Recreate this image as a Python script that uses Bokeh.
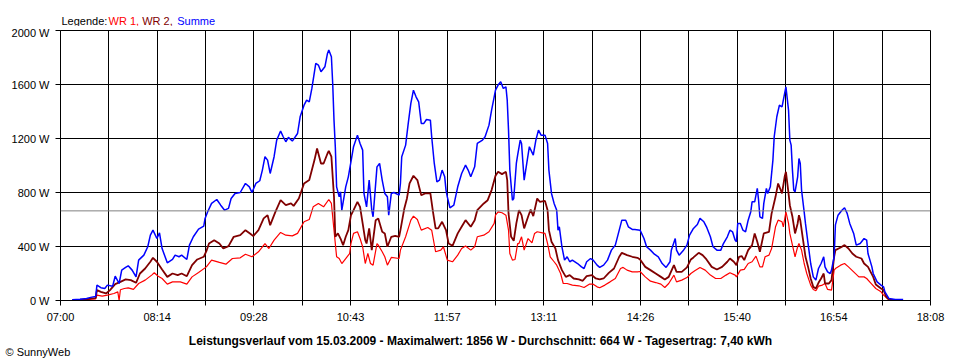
from bokeh.plotting import figure
from bokeh.layouts import column
from bokeh.models import Range1d, FixedTicker, CustomJSTickFormatter, Label, Span
from bokeh.embed import file_html
from bokeh.resources import INLINE

# ---------------- data ----------------
summe_times = ["07:09","07:15","07:20","07:24","07:27","07:28","07:31","07:34","07:36","07:40","07:42","07:45","07:47","07:50","07:52","07:55","07:58","08:00","08:04","08:07","08:09","08:11","08:14","08:16","08:18","08:22","08:26","08:28","08:31","08:33","08:37","08:39","08:42","08:46","08:50","08:51","08:53","08:56","09:00","09:03","09:06","09:09","09:11","09:14","09:18","09:22","09:25","09:27","09:30","09:33","09:35","09:37","09:39","09:41","09:44","09:46","09:49","09:51","09:53","09:55","09:58","10:02","10:04","10:07","10:09","10:11","10:13","10:16","10:18","10:20","10:23","10:25","10:26","10:28","10:29","10:30","10:31","10:32","10:34","10:35","10:36","10:39","10:41","10:43","10:45","10:48","10:50","10:52","10:53","10:55","10:57","10:59","11:00","11:03","11:05","11:07","11:09","11:11","11:12","11:14","11:16","11:20","11:21","11:22","11:25","11:27","11:29","11:31","11:33","11:35","11:37","11:39","11:41","11:44","11:45","11:47","11:49","11:51","11:53","11:55","11:56","11:57","11:59","12:02","12:05","12:08","12:11","12:13","12:15","12:18","12:20","12:24","12:26","12:29","12:31","12:33","12:34","12:36","12:38","12:40","12:42","12:43","12:44","12:45","12:47","12:48","12:50","12:51","12:53","12:54","12:56","12:58","13:00","13:03","13:05","13:07","13:09","13:12","13:14","13:15","13:17","13:19","13:21","13:22","13:23","13:25","13:27","13:29","13:31","13:33","13:37","13:40","13:42","13:44","13:47","13:49","13:52","13:54","13:57","14:00","14:03","14:06","14:09","14:11","14:14","14:16","14:19","14:21","14:25","14:28","14:30","14:33","14:36","14:39","14:42","14:45","14:48","14:49","14:52","14:53","14:55","14:58","15:01","15:03","15:06","15:09","15:11","15:14","15:16","15:19","15:21","15:24","15:27","15:29","15:32","15:34","15:36","15:38","15:39","15:40","15:42","15:44","15:46","15:48","15:50","15:51","15:53","15:55","15:56","15:57","15:59","16:00","16:02","16:03","16:05","16:07","16:08","16:10","16:12","16:14","16:16","16:17","16:19","16:20","16:21","16:22","16:23","16:24","16:26","16:27","16:28","16:29","16:31","16:32","16:34","16:36","16:38","16:40","16:42","16:44","16:46","16:47","16:49","16:51","16:52","16:54","16:55","16:57","17:00","17:02","17:04","17:06","17:09","17:11","17:14","17:17","17:19","17:20","17:23","17:24","17:27","17:30","17:32","17:33","17:36","17:41","17:47"]
summe_watts = [5,10,15,25,30,114,95,89,114,105,180,126,225,245,257,225,175,299,336,398,484,521,459,501,385,279,304,336,324,336,304,410,472,529,551,608,657,719,748,706,669,682,756,793,800,867,842,800,867,887,966,1065,1040,941,1065,1188,1255,1213,1176,1208,1181,1237,1361,1447,1484,1472,1571,1756,1744,1694,1731,1830,1856,1806,1608,1336,1139,842,768,805,669,842,916,1027,1139,1225,1163,1114,793,694,892,669,620,990,1015,892,793,768,632,793,800,780,867,1065,1151,1312,1460,1558,1509,1472,1312,1312,1341,1336,1213,1015,879,892,966,916,818,768,687,706,842,941,1003,966,916,990,1163,1188,1213,1299,1410,1509,1558,1596,1620,1571,1583,1484,1262,966,743,756,1015,1077,1188,1163,892,1015,1139,1077,1188,1262,1225,1225,1163,966,793,719,669,521,546,398,299,324,287,299,274,249,237,287,311,299,262,245,262,299,373,410,521,595,595,546,526,526,521,459,398,373,343,324,274,245,287,373,459,373,336,368,410,484,534,563,608,583,546,472,398,373,373,422,472,521,509,447,435,571,571,521,509,595,657,731,731,830,743,620,608,719,830,793,842,1040,1213,1361,1447,1435,1534,1583,1410,1188,1151,966,818,805,916,1052,1015,818,657,571,422,274,175,151,237,274,324,249,212,200,225,324,560,632,669,687,645,571,497,410,422,459,447,348,249,200,138,114,101,64,15,7,7]

wr2_times = ["07:09","07:15","07:20","07:24","07:27","07:28","07:31","07:35","07:38","07:42","07:46","07:50","07:54","07:58","08:01","08:05","08:09","08:11","08:14","08:18","08:22","08:26","08:30","08:33","08:37","08:41","08:45","08:50","08:52","08:54","08:58","09:02","09:05","09:09","09:13","09:18","09:22","09:26","09:28","09:32","09:36","09:39","09:41","09:45","09:49","09:53","09:57","09:59","10:03","10:07","10:11","10:15","10:17","10:20","10:22","10:25","10:26","10:28","10:30","10:31","10:33","10:35","10:37","10:39","10:41","10:43","10:45","10:48","10:50","10:52","10:54","10:55","10:57","10:59","11:02","11:04","11:07","11:09","11:11","11:14","11:17","11:20","11:21","11:24","11:26","11:28","11:31","11:34","11:37","11:40","11:44","11:46","11:48","11:50","11:53","11:56","11:58","12:01","12:05","12:08","12:11","12:15","12:18","12:20","12:25","12:28","12:31","12:34","12:36","12:39","12:42","12:43","12:44","12:46","12:48","12:50","12:51","12:52","12:54","12:56","12:59","13:01","13:03","13:06","13:08","13:12","13:14","13:15","13:17","13:20","13:22","13:25","13:28","13:31","13:34","13:38","13:41","13:44","13:48","13:51","13:54","13:57","14:01","14:05","14:09","14:11","14:15","14:19","14:23","14:25","14:29","14:33","14:37","14:41","14:44","14:47","14:51","14:53","14:57","15:01","15:04","15:06","15:10","15:13","15:16","15:20","15:24","15:28","15:32","15:34","15:37","15:39","15:41","15:43","15:45","15:48","15:51","15:53","15:55","15:57","16:00","16:04","16:06","16:09","16:11","16:14","16:16","16:17","16:19","16:20","16:22","16:24","16:26","16:27","16:28","16:30","16:32","16:34","16:36","16:38","16:40","16:42","16:44","16:46","16:47","16:50","16:52","16:54","16:55","16:59","17:02","17:05","17:08","17:11","17:15","17:17","17:20","17:24","17:26","17:30","17:32","17:34","17:36","17:41"]
wr2_watts = [3,6,9,15,18,77,64,52,77,121,138,156,151,131,200,237,287,316,287,230,175,200,188,200,180,262,304,324,365,422,447,422,385,403,472,484,521,492,477,521,608,632,558,657,743,706,719,701,756,867,892,1040,1126,1015,1015,1089,1109,1065,768,472,497,459,410,472,521,630,669,731,694,571,447,422,534,373,595,608,509,497,398,472,479,472,521,682,756,867,924,892,780,793,793,657,534,534,583,521,422,405,497,546,595,546,595,669,719,743,818,924,953,936,953,892,645,472,442,571,620,669,632,534,620,674,625,756,731,738,669,521,435,385,299,225,175,188,163,156,146,180,188,163,156,163,205,237,324,353,336,324,316,304,249,225,200,175,156,175,262,212,212,245,304,319,353,336,304,249,230,249,287,311,287,262,324,329,299,373,410,497,435,361,497,509,645,768,867,793,916,953,793,706,620,497,571,632,595,459,324,249,163,101,89,131,163,200,126,126,151,324,373,393,410,385,348,324,311,274,249,175,119,89,77,27,7,3]

wr1_times = ["07:09","07:15","07:20","07:24","07:27","07:28","07:32","07:36","07:41","07:44","07:45","07:46","07:49","07:52","07:56","08:00","08:05","08:10","08:12","08:15","08:18","08:22","08:26","08:32","08:37","08:41","08:46","08:52","08:56","09:02","09:07","09:12","09:18","09:22","09:27","09:32","09:37","09:40","09:44","09:49","09:53","09:58","10:02","10:07","10:11","10:14","10:18","10:22","10:26","10:28","10:30","10:32","10:34","10:36","10:39","10:42","10:43","10:45","10:48","10:50","10:52","10:54","10:56","10:58","11:00","11:03","11:04","11:07","11:09","11:11","11:14","11:20","11:21","11:25","11:29","11:31","11:34","11:37","11:42","11:45","11:48","11:52","11:54","11:57","12:01","12:05","12:08","12:11","12:15","12:18","12:20","12:25","12:29","12:33","12:34","12:36","12:39","12:42","12:44","12:45","12:47","12:49","12:51","12:52","12:54","12:56","12:59","13:02","13:04","13:06","13:10","13:12","13:14","13:16","13:19","13:21","13:24","13:26","13:29","13:33","13:38","13:42","13:46","13:49","13:52","13:54","13:58","14:02","14:06","14:10","14:12","14:15","14:19","14:23","14:25","14:29","14:33","14:37","14:41","14:44","14:47","14:51","14:53","14:57","15:01","15:04","15:07","15:11","15:15","15:19","15:23","15:27","15:31","15:34","15:38","15:39","15:42","15:45","15:48","15:51","15:54","15:57","15:59","16:01","16:04","16:06","16:09","16:11","16:14","16:15","16:17","16:19","16:20","16:22","16:24","16:26","16:27","16:29","16:31","16:33","16:36","16:38","16:40","16:42","16:45","16:47","16:49","16:52","16:54","16:55","16:59","17:02","17:05","17:09","17:13","17:17","17:19","17:22","17:26","17:30","17:32","17:35","17:38"]
wr1_watts = [2,4,6,10,12,40,32,40,52,64,0,80,89,94,82,126,151,188,205,180,163,121,138,138,121,175,207,249,299,282,269,311,316,343,324,361,422,385,447,504,484,479,497,583,600,694,719,694,748,719,521,324,311,274,311,348,422,497,509,459,398,274,348,274,262,422,410,361,324,262,319,311,373,472,595,625,600,521,541,521,361,373,398,299,287,336,385,403,373,398,472,484,509,571,632,657,650,632,521,348,299,304,422,422,472,373,459,427,497,509,501,497,422,324,287,262,200,126,126,114,109,96,121,121,101,94,114,138,163,237,245,225,212,212,215,175,143,133,121,96,126,188,138,151,170,200,220,245,225,188,163,163,188,205,188,175,225,230,274,287,329,249,249,324,336,385,546,595,583,546,657,571,497,410,324,398,422,373,274,200,114,82,72,106,114,126,82,77,225,237,262,274,249,212,175,175,163,131,89,64,40,15,3]

x_tick_labels = ["07:00", "08:14", "09:28", "10:43", "11:57", "13:11", "14:26", "15:40", "16:54", "18:08"]
y_ticks = [0, 400, 800, 1200, 1600, 2000]
average_w = 664
legend_parts = ["Legende:", "WR 1,", "WR 2,", "Summe"]
footer = "Leistungsverlauf vom 15.03.2009 - Maximalwert: 1856 W - Durchschnitt: 664 W - Tagesertrag: 7,40 kWh"
copyright_text = "\u00a9 SunnyWeb"


def to_min(s):
    h, m = s.split(":")
    return int(h) * 60 + int(m)


FONT = "Liberation Sans"
W = 960
TOP_H, MAIN_H, BOT_H = 26, 300, 34


def text_strip(h):
    """A figure without axes whose frame fills the canvas; data units = pixels from top-left."""
    f = figure(width=W, height=h, output_backend="svg", toolbar_location=None,
               x_range=Range1d(0, W), y_range=Range1d(h, 0),
               x_axis_type=None, y_axis_type=None,
               min_border_left=0, min_border_right=0, min_border_top=0, min_border_bottom=0)
    f.outline_line_color = None
    f.background_fill_color = "white"
    f.border_fill_color = "white"
    f.xgrid.visible = False
    f.ygrid.visible = False
    try:
        f.frame_align = False
    except Exception:
        pass
    return f


# ---------------- legend strip ----------------
top = text_strip(TOP_H)
legend_colors = ["black", "#ff0000", "#800000", "#0000ff"]
legend_x = [61, 108, 141.7, 176.7]
for txt, col, lx in zip(legend_parts, legend_colors, legend_x):
    top.add_layout(Label(x=lx, y=20.7, text=txt, text_font=FONT, text_font_size="11px",
                         text_color=col, text_baseline="alphabetic", text_align="left"))

# ---------------- main chart ----------------
X0 = to_min("07:00")
X1 = to_min("18:08")
STEP = (X1 - X0) / 18.0
grid_x = [X0 + i * STEP for i in range(19)]

p = figure(width=W, height=MAIN_H, output_backend="svg", toolbar_location=None,
           x_range=Range1d(X0, X1), y_range=Range1d(0, 2000),
           min_border_left=60, min_border_right=30, min_border_top=4, min_border_bottom=26)
p.background_fill_color = "white"
p.border_fill_color = "white"
p.outline_line_color = "black"
p.outline_line_width = 1
p.outline_line_alpha = 1
try:
    p.frame_align = False
except Exception:
    pass

p.xaxis.ticker = FixedTicker(ticks=grid_x)
p.xaxis.formatter = CustomJSTickFormatter(
    args=dict(labels=x_tick_labels, start=X0, step=STEP),
    code="const i = Math.round((tick - start) / step); return (i % 2 == 0) ? labels[i / 2] : '';")
p.yaxis.ticker = FixedTicker(ticks=y_ticks)
p.yaxis.formatter = CustomJSTickFormatter(code="return tick + ' W';")

for ax in (p.xaxis, p.yaxis):
    ax.axis_line_color = "black"
    ax.major_tick_line_color = "black"
    ax.major_tick_out = 5
    ax.major_tick_in = 0
    ax.minor_tick_line_color = None
    ax.major_label_text_font = FONT
    ax.major_label_text_font_size = "11px"
    ax.major_label_text_color = "black"
p.xaxis.major_label_standoff = 5
p.yaxis.major_label_standoff = 6

for g in (p.xgrid, p.ygrid):
    g.grid_line_color = "black"
    g.grid_line_alpha = 1
    g.grid_line_width = 1

p.add_layout(Span(location=average_w, dimension="width", line_color="#808080", line_width=1))

p.line([to_min(t) for t in wr1_times], wr1_watts, line_color="#ff0000", line_width=1.2)
p.line([to_min(t) for t in wr2_times], wr2_watts, line_color="#800000", line_width=1.8)
p.line([to_min(t) for t in summe_times], summe_watts, line_color="#0000ff", line_width=1.5)

# ---------------- footer strip ----------------
bot = text_strip(BOT_H)
y0 = TOP_H + MAIN_H
bot.add_layout(Label(x=480, y=340.7 - y0, text=footer, text_font=FONT, text_font_size="12px",
                     text_font_style="bold", text_color="black",
                     text_baseline="alphabetic", text_align="center"))
bot.add_layout(Label(x=5, y=351 - y0, text=copyright_text, text_font=FONT, text_font_size="11px",
                     text_color="black", text_baseline="alphabetic", text_align="left"))

layout = column(top, p, bot, spacing=0)
open("out.html", "w").write(file_html(layout, INLINE))
